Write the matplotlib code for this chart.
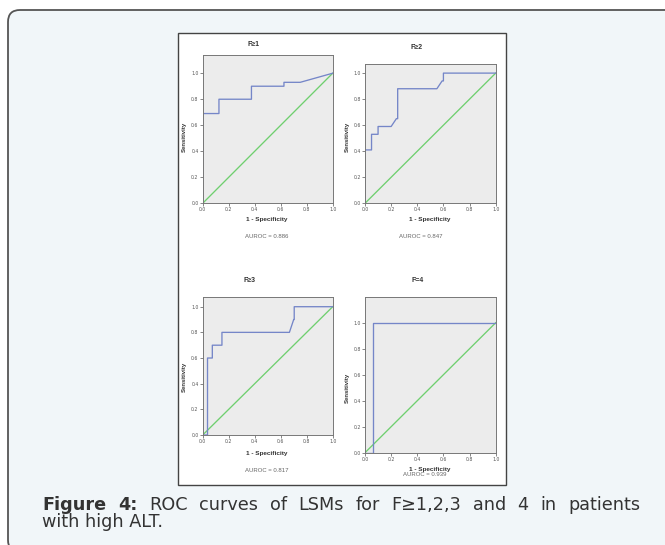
import matplotlib
matplotlib.use("Agg")
import matplotlib.pyplot as plt
from matplotlib.patches import FancyBboxPatch, Rectangle

W, H = 665, 545

# ROC curve points
titles = ["F\u22651", "F\u22652", "F\u22653", "F=4"]
auroc = ["0.886", "0.847", "0.817", "0.939"]

f1_fpr = [0, 0, 0.125, 0.125, 0.375, 0.375, 0.625, 0.625, 0.75, 1.0]
f1_tpr = [0, 0.69, 0.69, 0.80, 0.80, 0.90, 0.90, 0.93, 0.93, 1.0]

f2_fpr = [0, 0, 0.05, 0.05, 0.10, 0.10, 0.20, 0.24, 0.25, 0.25, 0.55, 0.59, 0.60, 0.60, 1.0]
f2_tpr = [0, 0.41, 0.41, 0.53, 0.53, 0.59, 0.59, 0.65, 0.65, 0.88, 0.88, 0.94, 0.94, 1.0, 1.0]

f3_fpr = [0, 0.037, 0.037, 0.074, 0.074, 0.148, 0.148, 0.667, 0.70, 0.704, 0.704, 1.0]
f3_tpr = [0, 0, 0.60, 0.60, 0.70, 0.70, 0.80, 0.80, 0.90, 0.90, 1.0, 1.0]

f4_fpr = [0, 0.0625, 0.0625, 1.0]
f4_tpr = [0, 0, 1.0, 1.0]

curves = [(f1_fpr, f1_tpr), (f2_fpr, f2_tpr), (f3_fpr, f3_tpr), (f4_fpr, f4_tpr)]
ticks = [0.0, 0.2, 0.4, 0.6, 0.8, 1.0]
tick_labels = ["0.0", "0.2", "0.4", "0.6", "0.8", "1.0"]

caption_bold = "Figure 4:"
caption_line1 = "ROC curves of LSMs for F\u22651,2,3 and 4 in patients"
caption_line2 = "with high ALT."

# layout in pixels: axes box (left, right, top, bottom), ylim top, text spots
boxes = [(202.7, 332.7, 55, 203.3, 1.14), (365, 495.7, 64, 203.3, 1.07),
         (202.7, 332.7, 296.7, 435, 1.078), (365, 495.7, 297, 452.7, 1.198)]
title_pos = [(253, 45), (417, 47), (250, 280), (418, 280)]
xlab_pos = [(267, 220), (430, 220), (267, 453), (430, 469)]
auc_pos = [(267, 236), (421, 236), (267, 471), (425, 475)]
ylab_pos = [(184, 137), (347, 137), (184, 377), (347, 388)]

blue = "#7586c8"
green = "#6fcf6f"


def fx(x):
    return x / W


def fy(y):
    return 1 - y / H


fig = plt.figure(figsize=(W / 100, H / 100), dpi=100)
fig.patch.set_facecolor("white")

# outer rounded panel
panel = FancyBboxPatch((fx(8), fy(552)), fx(700), (552 - 10) / H,
                       boxstyle="round,pad=0,rounding_size=0.018",
                       transform=fig.transFigure, facecolor="#f1f6f9",
                       edgecolor="#555555", linewidth=1.3, mutation_aspect=W / H,
                       zorder=-3)
fig.patches.append(panel)

# white figure box
fig.patches.append(Rectangle((fx(178), fy(485)), (506 - 178) / W, (485 - 33) / H,
                             transform=fig.transFigure, facecolor="white",
                             edgecolor="#444444", linewidth=1.0, zorder=-2))

for i in range(4):
    l, r, t, b, ytop = boxes[i]
    ax = fig.add_axes([fx(l), fy(b), (r - l) / W, (b - t) / H])
    ax.set_facecolor("#ececec")
    fpr, tpr = curves[i]
    ax.plot([0, 1], [0, 1], color=green, lw=0.95)
    ax.plot(fpr, tpr, color=blue, lw=0.95)
    ax.set_xlim(0, 1)
    ax.set_ylim(0, ytop)
    ax.set_xticks(ticks)
    ax.set_xticklabels(tick_labels)
    ax.set_yticks(ticks)
    ax.set_yticklabels(tick_labels)
    ax.tick_params(labelsize=3.3, labelcolor="#555555", length=2, width=0.5,
                   color="#555555", pad=1)
    for s in ax.spines.values():
        s.set_color("#777777")
        s.set_linewidth(0.7)

    fig.text(fx(title_pos[i][0]), fy(title_pos[i][1]), titles[i], fontsize=5,
             fontweight="bold", color="#333333", ha="center", va="center",
             family="Liberation Sans")
    fig.text(fx(xlab_pos[i][0]), fy(xlab_pos[i][1]), "1 - Specificity", fontsize=4.6,
             fontweight="bold", color="#333333", ha="center", va="center",
             family="Liberation Sans")
    fig.text(fx(auc_pos[i][0]), fy(auc_pos[i][1]), "AUROC = " + auroc[i], fontsize=4.3,
             color="#666666", ha="center", va="center", family="Liberation Sans")
    fig.text(fx(ylab_pos[i][0]), fy(ylab_pos[i][1]), "Sensitivity", fontsize=4.3,
             fontweight="bold", color="#333333", ha="center", va="center",
             rotation=90, family="Liberation Sans")

# caption, first line justified between x=42 and x=640
fig.canvas.draw()
renderer = fig.canvas.get_renderer()
words = [(w, "bold") for w in caption_bold.split()]
words += [(w, "normal") for w in caption_line1.split()]
items = []
total = 0
for w, weight in words:
    t = fig.text(0, fy(509.5), w, fontsize=12.7, fontweight=weight, color="#333333",
                 family="DejaVu Sans", va="baseline")
    bb = t.get_window_extent(renderer)
    items.append((t, bb.width))
    total += bb.width
gap = (640 - 42 - total) / (len(items) - 1)
x = 42
for t, wdt in items:
    t.set_x(fx(x))
    x += wdt + gap

fig.text(fx(42), fy(527.3), caption_line2, fontsize=12.7, color="#333333",
         family="DejaVu Sans", va="baseline")

fig.savefig("out.png", dpi=100)
